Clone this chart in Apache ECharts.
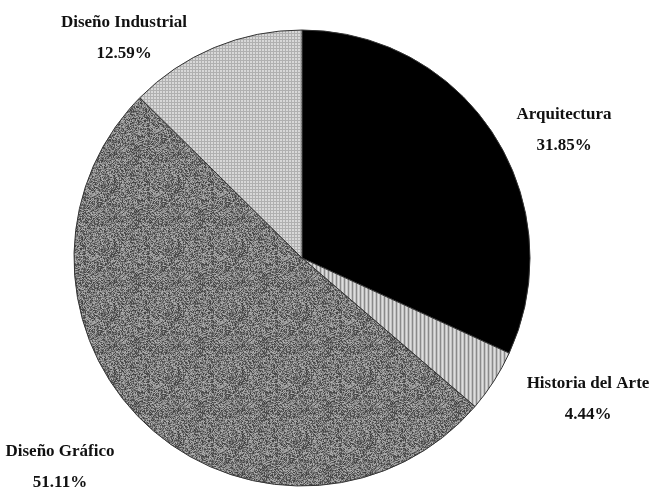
<!DOCTYPE html>
<html>
<head>
<meta charset="utf-8">
<script src="https://cdn.jsdelivr.net/npm/echarts@6/dist/echarts.min.js"></script>
<style>
html, body { margin: 0; padding: 0; background: #fff; }
#chart { width: 657px; height: 492px; }
</style>
</head>
<body>
<div id="chart"></div>
<script>
// datos
var categories = ['Arquitectura', 'Historia del Arte', 'Diseño Gráfico', 'Diseño Industrial'];
var values = [31.85, 4.44, 51.11, 12.59];

// posiciones de las etiquetas (centro del bloque de texto)
var labelPos = [[564, 130], [588, 399], [60, 467], [124, 38]];

// texturas
function makeCanvas(w, h, draw) {
    var c = document.createElement('canvas');
    c.width = w; c.height = h;
    draw(c.getContext('2d'), w, h);
    return c;
}
// rejilla clara (Diseño Industrial)
var gridTex = makeCanvas(3, 3, function (ctx) {
    ctx.fillStyle = '#d8d8d8';
    ctx.fillRect(0, 0, 3, 3);
    ctx.fillStyle = '#b0b0b0';
    ctx.fillRect(0, 0, 3, 1);
    ctx.fillRect(0, 0, 1, 3);
});
// rayas verticales (Historia del Arte)
var stripeTex = makeCanvas(4, 4, function (ctx) {
    ctx.fillStyle = '#c4c4c4';
    ctx.fillRect(0, 0, 4, 4);
    ctx.fillStyle = '#8a8a8a';
    ctx.fillRect(0, 0, 1, 4);
    ctx.fillStyle = '#dedede';
    ctx.fillRect(2, 0, 1, 4);
});
// grano (Diseño Gráfico)
var noiseTex = makeCanvas(64, 64, function (ctx, w, h) {
    var img = ctx.createImageData(w, h);
    var s = 12345;
    for (var i = 0; i < w * h; i++) {
        s = (s * 1103515245 + 12345) & 0x7fffffff;
        var v = 60 + (s >> 8) % 120;
        img.data[i * 4] = v;
        img.data[i * 4 + 1] = v;
        img.data[i * 4 + 2] = v;
        img.data[i * 4 + 3] = 255;
    }
    ctx.putImageData(img, 0, 0);
});

var fills = [
    '#000000',
    { image: stripeTex, repeat: 'repeat' },
    { image: noiseTex, repeat: 'repeat' },
    { image: gridTex, repeat: 'repeat' }
];

var myChart = echarts.init(document.getElementById('chart'));

var option = {
    animation: false,
    series: [{
        type: 'pie',
        center: [302, 258],
        radius: 228,
        startAngle: 90,
        clockwise: true,
        data: categories.map(function (name, i) {
            return { name: name, value: values[i], itemStyle: { color: fills[i] } };
        }),
        itemStyle: {
            borderColor: '#333',
            borderWidth: 1
        },
        label: {
            show: true,
            position: 'outside',
            formatter: '{b}\n{c}%',
            fontFamily: 'Liberation Serif',
            fontWeight: 'bold',
            fontSize: 17,
            lineHeight: 31,
            color: '#111',
            align: 'center',
            overflow: 'none',
            width: 200
        },
        labelLine: { show: false },
        labelLayout: function (params) {
            var p = labelPos[params.dataIndex];
            return { x: p[0], y: p[1], align: 'center', verticalAlign: 'middle' };
        },
        emphasis: { disabled: true }
    }]
};
myChart.setOption(option);
</script>
</body>
</html>
